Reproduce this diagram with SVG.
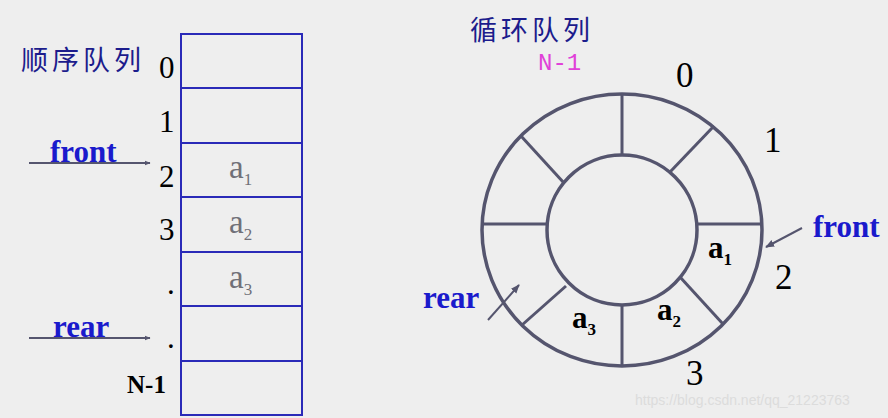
<svg xmlns="http://www.w3.org/2000/svg" width="888" height="418" viewBox="0 0 888 418">
<defs>
<style>
.bg{fill:#eeeeee}
.cell{fill:none;stroke:#2a2ab8;stroke-width:2}
.ring{fill:none;stroke:#55556e;stroke-width:3.5}
.spoke{stroke:#55556e;stroke-width:3}
.num{font-family:"Liberation Serif",serif;fill:#000;font-size:31px}
.cnum{font-family:"Liberation Serif",serif;fill:#000;font-size:35px}
.ptr{font-family:"Liberation Serif",serif;font-weight:bold;fill:#1a1acc;font-size:31px}
.elem{font-family:"Liberation Serif",serif;fill:#707078;font-size:33px}
.elemb{font-family:"Liberation Serif",serif;fill:#000;font-weight:bold;font-size:31px}
.sub{font-size:17px}
.title{font-family:"Noto Sans CJK SC",sans-serif;fill:#1c1c8c;font-size:27px;letter-spacing:4px}
.arr{stroke:#55556e;stroke-width:2;fill:none}
</style>
<marker id="ah" viewBox="0 0 10 10" refX="9" refY="5" markerWidth="6" markerHeight="6" orient="auto" markerUnits="userSpaceOnUse" >
<path d="M0,1 L10,5 L0,9 z" fill="#55556e"/>
</marker>
<marker id="ah2" viewBox="0 0 10 10" refX="9" refY="5" markerWidth="9" markerHeight="9" orient="auto" markerUnits="userSpaceOnUse">
<path d="M0,1 L10,5 L0,9 z" fill="#55556e"/>
</marker>
</defs>
<rect class="bg" x="0" y="0" width="888" height="418"/>

<g id="seq-queue">
<text class="title" x="21" y="70">顺序队列</text>
<g id="seq-cells">
<rect class="cell" x="181" y="34" width="121" height="381"/>
<line class="cell" x1="181" y1="88" x2="302" y2="88"/>
<line class="cell" x1="181" y1="143" x2="302" y2="143"/>
<line class="cell" x1="181" y1="197" x2="302" y2="197"/>
<line class="cell" x1="181" y1="252" x2="302" y2="252"/>
<line class="cell" x1="181" y1="306" x2="302" y2="306"/>
<line class="cell" x1="181" y1="361" x2="302" y2="361"/>
</g>
<g id="seq-index">
<text class="num" x="159" y="78">0</text>
<text class="num" x="159" y="132">1</text>
<text class="num" x="159" y="187">2</text>
<text class="num" x="159" y="240">3</text>
<text class="num" x="167" y="294">.</text>
<text class="num" x="167" y="348">.</text>
<text x="127" y="393" font-family="Liberation Serif, serif" font-weight="bold" font-size="25">N-1</text>
</g>
<g id="seq-elems">
<text class="elem" x="229" y="178">a<tspan class="sub" dy="7">1</tspan></text>
<text class="elem" x="229" y="233">a<tspan class="sub" dy="7">2</tspan></text>
<text class="elem" x="229" y="288">a<tspan class="sub" dy="7">3</tspan></text>
</g>
<g id="seq-front">
<text class="ptr" x="50" y="162">front</text>
</g>
<g id="seq-rear">
<text class="ptr" x="53" y="337">rear</text>
</g>
</g>

<g id="circ-queue">
<text class="title" x="470" y="40">循环队列</text>
<text x="538" y="70" font-family="Liberation Mono, monospace" font-size="24" fill="#e040d8">N-1</text>
<g id="ring">
<ellipse class="ring" cx="622" cy="230" rx="140" ry="136"/>
<circle class="ring" cx="622" cy="230" r="75"/>
<line class="spoke" x1="622" y1="94" x2="622" y2="155"/>
<line class="spoke" x1="714" y1="126" x2="670" y2="172"/>
<line class="spoke" x1="697" y1="224" x2="762" y2="224"/>
<line class="spoke" x1="680" y1="277" x2="723" y2="324"/>
<line class="spoke" x1="622" y1="305" x2="622" y2="366"/>
<line class="spoke" x1="566" y1="286" x2="522" y2="325"/>
<line class="spoke" x1="482" y1="224" x2="547" y2="224"/>
<line class="spoke" x1="521" y1="136" x2="564" y2="183"/>
</g>
<g id="circ-index">
<text class="cnum" x="676" y="87">0</text>
<text class="cnum" x="764" y="152">1</text>
<text class="cnum" x="775" y="289">2</text>
<text class="cnum" x="686" y="385">3</text>
</g>
<g id="circ-elems">
<text class="elemb" x="708" y="258">a<tspan class="sub" dy="7">1</tspan></text>
<text class="elemb" x="657" y="320">a<tspan class="sub" dy="7">2</tspan></text>
<text class="elemb" x="572" y="328">a<tspan class="sub" dy="7">3</tspan></text>
</g>
<g id="circ-front">
<text class="ptr" x="813" y="237">front</text>
</g>
<g id="circ-rear">
<text class="ptr" x="423" y="308">rear</text>
</g>
</g>

<g id="connectors">
<line class="arr" x1="29" y1="163" x2="150" y2="163" marker-end="url(#ah)"/>
<line class="arr" x1="29" y1="338" x2="150" y2="338" marker-end="url(#ah)"/>
<line class="arr" x1="802" y1="228" x2="766" y2="247" marker-end="url(#ah2)"/>
<line class="arr" x1="488" y1="320" x2="519" y2="285" marker-end="url(#ah2)"/>
</g>

<text x="635" y="405" font-family="Liberation Sans, sans-serif" font-size="14" fill="#dcdcdc">https://blog.csdn.net/qq_21223763</text>
</svg>
